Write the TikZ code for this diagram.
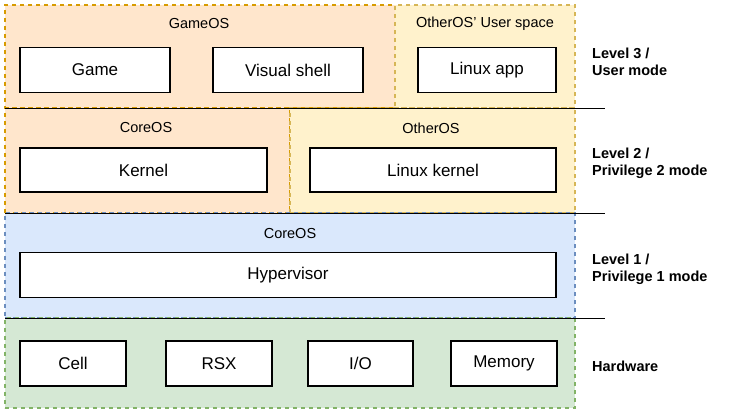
\documentclass[tikz,border=0pt]{standalone}
\usepackage{fontspec}
\setmainfont{Liberation Sans}
\definecolor{orfill}{HTML}{FFE6CC}\definecolor{orline}{HTML}{D79B00}
\definecolor{yefill}{HTML}{FFF2CC}\definecolor{yeline}{HTML}{D6B656}
\definecolor{blfill}{HTML}{DAE8FC}\definecolor{blline}{HTML}{6C8EBF}
\definecolor{grfill}{HTML}{D5E8D4}\definecolor{grline}{HTML}{82B366}
\tikzset{
  region/.style={rectangle, inner sep=0pt, line width=1.1pt, dash pattern=on 4pt off 4pt},
  orreg/.style={region, fill=orfill, draw=orline},
  yereg/.style={region, fill=yefill, draw=yeline},
  blreg/.style={region, fill=blfill, draw=blline},
  grreg/.style={region, fill=grfill, draw=grline},
  comp/.style={rectangle, draw=black, fill=white, line width=1.2pt, inner sep=0pt,
    font=\fontsize{17}{20}\selectfont},
  rlabel/.style={font=\fontsize{14.5}{17}\selectfont, inner sep=0pt},
  lvl/.style={font=\bfseries\fontsize{14.5}{17}\selectfont, align=left, anchor=west, inner sep=0pt},
  sep/.style={draw=black, line width=0.9pt}
}
\begin{document}
\begin{tikzpicture}[x=1pt,y=-1pt]
\useasboundingbox (0,0) rectangle (731,414);
% regions
\node[orreg, minimum width=390pt, minimum height=103pt] (gameos) at (200,56.5) {};
\node[yereg, minimum width=180pt, minimum height=103pt] (otherus) at (485,56.5) {};
\node[orreg, minimum width=285pt, minimum height=105pt] (coreos2) at (147.5,160.5) {};
\node[yereg, minimum width=285pt, minimum height=105pt] (otheros) at (432.5,160.5) {};
\node[blreg, minimum width=570pt, minimum height=105pt] (coreos1) at (290,265.5) {};
\node[grreg, minimum width=570pt, minimum height=90pt] (hw) at (290,363) {};
% region labels
\node[rlabel] (lgameos) at (199,24) {GameOS};
\node[rlabel] (lotherus) at (485,24) {OtherOS' User space};
\node[rlabel] (lcoreos2) at (146,128) {CoreOS};
\node[rlabel] (lotheros) at (431,128) {OtherOS};
\node[rlabel] (lcoreos1) at (290,234) {CoreOS};
% separators
\coordinate (s1a) at (5,108); \coordinate (s1b) at (605,108);
\coordinate (s2a) at (5,213); \coordinate (s2b) at (605,213);
\coordinate (s3a) at (5,318); \coordinate (s3b) at (605,318);
\draw[sep] (s1a) -- (s1b);
\draw[sep] (s2a) -- (s2b);
\draw[sep] (s3a) -- (s3b);
% components
\node[comp, minimum width=150pt, minimum height=45pt] (game) at (95,70) {Game};
\node[comp, minimum width=150pt, minimum height=45pt] (vshell) at (288,70) {Visual shell};
\node[comp, minimum width=138pt, minimum height=45pt] (lapp) at (487,70) {Linux app};
\node[comp, minimum width=247pt, minimum height=44pt] (kernel) at (143.5,170) {Kernel};
\node[comp, minimum width=246pt, minimum height=44pt] (lkernel) at (433,170) {Linux kernel};
\node[comp, minimum width=536pt, minimum height=45pt] (hyper) at (288,275) {Hypervisor};
\node[comp, minimum width=106pt, minimum height=45pt] (cell) at (73,363.5) {Cell};
\node[comp, minimum width=106pt, minimum height=45pt] (rsx) at (219,363.5) {RSX};
\node[comp, minimum width=105pt, minimum height=45pt] (io) at (360.5,363.5) {I/O};
\node[comp, minimum width=106pt, minimum height=45pt] (mem) at (504,363.5) {Memory};
% level labels
\node[lvl] (l3) at (592,61.5) {Level 3 /\\User mode};
\node[lvl] (l2) at (592,163.5) {Level 2 /\\Privilege 2 mode};
\node[lvl] (l1) at (592,269.5) {Level 1 /\\Privilege 1 mode};
\node[lvl] (lhw) at (592,366) {Hardware};
\end{tikzpicture}
\end{document}
